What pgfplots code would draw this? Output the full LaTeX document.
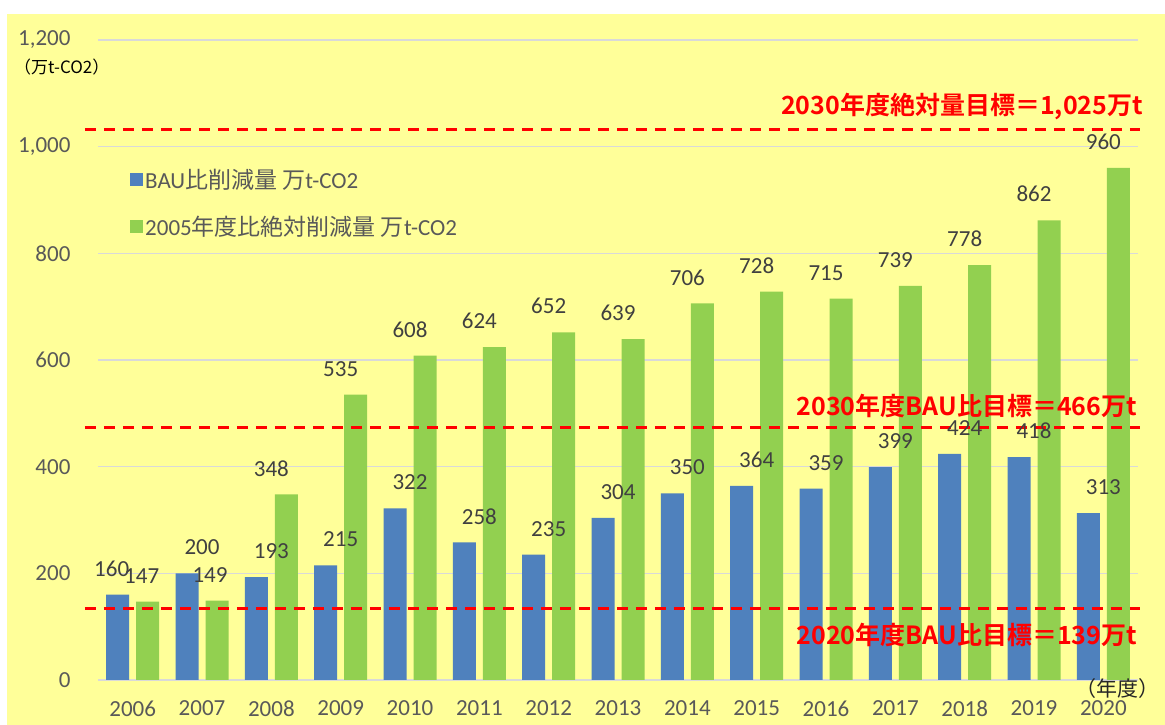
\documentclass[border=0pt]{standalone}
\usepackage{pgfplots}
\pgfplotsset{compat=1.18}
\usepackage{fontspec}
\setmainfont{Carlito}
\newfontfamily\jp{Noto Sans CJK JP}
\newfontfamily\jpb{Noto Sans CJK JP Bold}
\definecolor{bgy}{HTML}{FFFF99}
\definecolor{barblue}{HTML}{4F81BD}
\definecolor{bargreen}{HTML}{92D050}
\definecolor{gridc}{HTML}{D9D9D9}
\definecolor{lblc}{HTML}{404040}
\definecolor{tickc}{HTML}{595959}
\definecolor{redl}{HTML}{FF0000}
\pgfplotstableread{
x bau abs bxs axs
0 160 147 -21 9
1 200 149 0 8
2 193 348 0 0
3 215 535 0 0
4 322 608 0 0
5 258 624 0 0
6 235 652 0 0
7 304 639 0 0
8 350 706 0 0
9 364 728 0 0
10 359 715 0 0
11 399 739 0 0
12 424 778 0 0
13 418 862 0 0
14 313 960 0 0
}\datatable
\begin{document}
\begin{tikzpicture}
\useasboundingbox (0,0) rectangle (1165pt,725pt);
\fill[white] (0,0) rectangle (1165pt,725pt);
\fill[bgy] (7pt,0) rectangle (1165pt,711pt);
\begin{axis}[
  at={(98pt,45pt)}, anchor=south west,
  scale only axis, width=1040pt, height=640pt,
  xmin=-0.5, xmax=14.5, ymin=0, ymax=1200,
  ytick={0,200,...,1200},
  xtick={0,...,14},
  xticklabels={2006,2007,2008,2009,2010,2011,2012,2013,2014,2015,2016,2017,2018,2019,2020},
  axis line style={draw=none},
  major tick length=0pt,
  ymajorgrids, grid style={gridc, line width=1.5pt},
  /pgf/number format/assume math mode=true,
  /pgf/number format/1000 sep={,},
  tick label style={font=\fontsize{23}{27}\selectfont, text=tickc},
  yticklabel shift=24pt,
  xticklabel shift=17pt,
  clip=false,
  legend style={at={(axis description cs:0.0308,0.802)}, anchor=north west,
    draw=none, fill=none, font=\fontsize{23}{27}\selectfont, text=tickc,
    row sep=22pt, inner sep=0pt},
  legend cell align=left,
]
\addplot[ybar, bar width=23pt, bar shift=-15pt, fill=barblue, draw=none,
  visualization depends on={\thisrow{bxs} \as \lxs},
  nodes near coords, every node near coord/.append style={font=\fontsize{23}{27}\selectfont, text=lblc, inner sep=1pt, yshift=17pt, xshift=\lxs pt},
  legend image code/.code={\fill[barblue] (0pt,-6.5pt) rectangle (13pt,6.5pt);}]
  table[x=x,y=bau]{\datatable};
\addlegendentry{BAU{\jp 比削減量 万}t-CO2}
\addplot[ybar, bar width=23pt, bar shift=15pt, fill=bargreen, draw=none,
  visualization depends on={\thisrow{axs} \as \lxs},
  nodes near coords, every node near coord/.append style={font=\fontsize{23}{27}\selectfont, text=lblc, inner sep=1pt, yshift=17pt, xshift=\lxs pt},
  legend image code/.code={\fill[bargreen] (0pt,-6.5pt) rectangle (13pt,6.5pt);}]
  table[x=x,y=abs]{\datatable};
\addlegendentry{2005{\jp 年度比絶対削減量 万}t-CO2}
\addplot[forget plot, redl, line width=3pt, dash pattern=on 11pt off 8pt] coordinates {(-0.69,1032) (14.53,1032)};
\addplot[forget plot, redl, line width=3pt, dash pattern=on 11pt off 8pt] coordinates {(-0.69,474) (14.53,474)};
\addplot[forget plot, redl, line width=3pt, dash pattern=on 11pt off 8pt] coordinates {(-0.69,134) (14.53,134)};
\end{axis}
\node[anchor=east, text=redl, font=\jpb\fontsize{25}{29}\selectfont, inner sep=0pt] at (1143pt,618pt) {2030年度絶対量目標＝1,025万t};
\node[anchor=east, text=redl, font=\jpb\fontsize{25}{29}\selectfont, inner sep=0pt] at (1137pt,319pt) {2030年度BAU比目標＝466万t};
\node[anchor=east, text=redl, font=\jpb\fontsize{25}{29}\selectfont, inner sep=0pt] at (1137pt,90pt) {2020年度BAU比目標＝139万t};
\node[anchor=west, text=black, font=\jp\fontsize{17}{20}\selectfont, inner sep=0pt] at (14pt,658pt) {（万t-CO2）};
\node[anchor=east, text=black!85, font=\jp\fontsize{21}{25}\selectfont, inner sep=0pt] at (1160pt,36pt) {（年度）};
\end{tikzpicture}
\end{document}
